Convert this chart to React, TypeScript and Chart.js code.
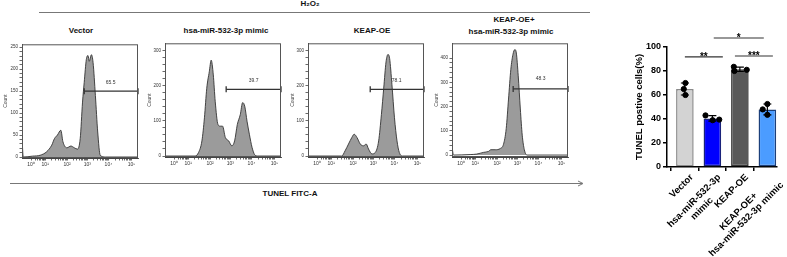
import React, { useEffect, useRef } from "react";
import { Chart, registerables } from "chart.js";
Chart.register(...registerables);

const FONT = "'Liberation Sans', Arial, Helvetica, sans-serif";

// ---- flow histograms (x in display decades) ----
const decadePositions = [0.43, 1.1, 2.14, 3.1, 4.1, 5.19];
const decadeLabels = ["10⁰", "10¹", "10²", "10³", "10⁴", "10⁵"];

const vectorX = [0, 0.06, 0.5, 0.86, 1.17, 1.41, 1.54, 1.68, 1.84, 1.94, 2.13, 2.32, 2.48, 2.63, 2.76, 2.87, 2.95, 3.05, 3.13, 3.19, 3.29, 3.37, 3.48, 3.59, 3.71, 3.95, 5.5];
const vectorCount = [45, 0, 2, 4, 12, 27, 42, 50, 61, 35, 21, 25, 21, 18, 42, 125, 170, 222, 231, 218, 233, 215, 140, 57, 4, 0, 0];

const mimicX = [0, 1.43, 1.59, 1.75, 1.87, 1.98, 2.1, 2.19, 2.29, 2.38, 2.51, 2.62, 2.73, 2.86, 3.02, 3.17, 3.3, 3.43, 3.57, 3.68, 3.78, 3.89, 4.0, 4.13, 4.25, 4.4, 5.5];
const mimicCount = [0, 0, 10, 43, 109, 193, 240, 273, 231, 156, 90, 85, 85, 53, 43, 29, 43, 90, 118, 152, 142, 99, 62, 24, 4, 0, 0];

const keapX = [0, 1.6, 1.76, 1.92, 2.08, 2.19, 2.32, 2.48, 2.63, 2.76, 2.87, 3.03, 3.19, 3.35, 3.48, 3.59, 3.7, 3.79, 3.87, 3.98, 4.1, 4.22, 4.33, 4.5, 5.5];
const keapCount = [0, 0, 15, 34, 53, 62, 53, 34, 29, 34, 20, 6, 10, 43, 118, 193, 268, 289, 278, 203, 109, 43, 10, 0, 0];

const comboX = [0, 0.07, 0.86, 1.17, 1.49, 1.73, 1.84, 2.05, 2.29, 2.44, 2.57, 2.68, 2.79, 2.89, 2.98, 3.05, 3.14, 3.24, 3.33, 3.43, 3.56, 5.5];
const comboCount = [35, 0, 2, 4, 11, 15, 22, 22, 27, 44, 109, 231, 354, 415, 435, 421, 327, 190, 82, 22, 0, 0];

const gateLabels = ["65.5", "39.7", "78.1", "48.3"];
const gateLevels = [150, 190, 190, 273];

// ---- bar chart ----
const groups: (string | string[])[] = ["Vector", ["hsa-miR-532-3p", "mimic"], "KEAP-OE", ["KEAP-OE+", "hsa-miR-532-3p mimic"]];
const meanTunel = [65, 40.5, 81.5, 48];
const sdTunel = [5, 2.3, 1.8, 4.5];
const replicates = [[70, 65, 60], [43, 39, 39.5], [83.5, 80, 81], [52.5, 48, 43.5]];
const jitter = [[0.02, -0.04, 0.02], [-0.25, 0.01, 0.25], [-0.22, -0.2, 0.25], [0, -0.17, 0]];
const barFill = ["#d3d3d3", "#0000fe", "#595959", "#4b9cff"];
const barEdge = ["#8a8a8a", "#1a237a", "#363636", "#1c3f7a"];
const sigMarks = ["**", "***", "*"];
const sigFrom = [0, 1.82, 1.05];
const sigTo = [1.38, 3.2, 2.87];
const sigLevel = [91.7, 92.5, 107.5];

const FW = 116, FH = 115, AXW = 22, AXH = 18, PADT = 4, PADR = 6;

type HistProps = {
  left: number; top: number; xs: number[]; ys: number[];
  yMin: number; yMax: number; yTop: number; major: number; minor: number;
  gate: { x0: number; x1: number; y: number; lx: number; ly: number; text: string };
  titlePad: number;
};

function Hist(p: HistProps) {
  const ref = useRef<HTMLCanvasElement>(null);
  useEffect(() => {
    const minorX: number[] = [];
    for (let d = 0; d < decadePositions.length - 1; d++)
      for (let k = 2; k < 10; k++)
        minorX.push(decadePositions[d] + Math.log10(k) * (decadePositions[d + 1] - decadePositions[d]));
    const frame = {
      id: "frame",
      afterDraw(c: any) {
        const a = c.chartArea; const ctx = c.ctx;
        ctx.save();
        ctx.strokeStyle = "#555"; ctx.lineWidth = 1;
        ctx.strokeRect(a.left + 0.5, a.top + 0.5, a.right - a.left - 1, a.bottom - a.top - 1);
        ctx.fillStyle = "#333"; ctx.font = `5px ${FONT}`;
        ctx.textAlign = "center"; ctx.textBaseline = "middle";
        ctx.fillText(p.gate.text, c.scales.x.getPixelForValue(p.gate.lx), c.scales.y.getPixelForValue(p.gate.ly));
        ctx.restore();
      },
    };
    const chart = new Chart(ref.current as HTMLCanvasElement, {
      type: "line",
      data: {
        datasets: [
          {
            data: [{ x: p.gate.x0, y: p.gate.y }, { x: p.gate.x1, y: p.gate.y }],
            borderColor: "#333", borderWidth: 1.3, pointStyle: "line", pointRotation: 90,
            pointRadius: 3, pointBorderWidth: 1.3, pointBorderColor: "#333", fill: false, clip: false as any,
          } as any,
          {
            data: p.xs.map((x, i) => ({ x, y: p.ys[i] })),
            borderColor: "#333", borderWidth: 0.9, backgroundColor: "#9b9b9b",
            fill: "origin", pointRadius: 0, cubicInterpolationMode: "monotone",
          } as any,
        ],
      },
      options: {
        responsive: false, animation: false, events: [],
        layout: { padding: { top: PADT, right: PADR, left: 0, bottom: 0 } },
        plugins: { legend: { display: false }, tooltip: { enabled: false } },
        scales: {
          x: {
            type: "linear", min: 0, max: 5.5,
            afterBuildTicks: (s: any) => {
              s.ticks = [...decadePositions, ...minorX].sort((a, b) => a - b).map((v) => ({ value: v }));
            },
            afterFit: (s: any) => { s.height = AXH; },
            ticks: {
              autoSkip: false, maxRotation: 0, minRotation: 0, padding: 1,
              font: { size: 5, family: FONT }, color: "#333",
              callback: (v: any) => { const i = decadePositions.indexOf(v); return i >= 0 ? decadeLabels[i] : ""; },
            },
            grid: { drawOnChartArea: false, tickLength: 2.5, color: "#444", lineWidth: 0.8 },
            border: { display: true, color: "#444", width: 1 },
          },
          y: {
            type: "linear", min: p.yMin, max: p.yMax,
            afterBuildTicks: (s: any) => {
              const t: any[] = [];
              for (let v = 0; v <= p.yTop; v += p.minor) t.push({ value: v });
              s.ticks = t;
            },
            afterFit: (s: any) => { s.width = AXW; },
            ticks: {
              autoSkip: false, padding: 1.5, font: { size: 4.5, family: FONT }, color: "#333",
              callback: (v: any) => (v % p.major === 0 ? String(v) : ""),
            },
            grid: { drawOnChartArea: false, tickLength: 2.5, color: "#444", lineWidth: 0.8 },
            border: { display: true, color: "#444", width: 1 },
            title: { display: true, text: "Count", font: { size: 5, family: FONT }, color: "#444", padding: { top: p.titlePad, bottom: 0 } },
          },
        },
      } as any,
      plugins: [frame],
    });
    return () => chart.destroy();
  }, []);
  const w = FW + AXW + PADR, h = FH + PADT + AXH;
  return (
    <canvas ref={ref} width={w} height={h}
      style={{ position: "absolute", left: p.left - AXW, top: p.top - PADT, width: w, height: h }} />
  );
}

function BarPanel() {
  const ref = useRef<HTMLCanvasElement>(null);
  useEffect(() => {
    const errPlugin = {
      id: "err",
      afterDatasetDraw(c: any, args: any) {
        if (args.index !== 1) return;
        const ctx = c.ctx, xs = c.scales.x, ys = c.scales.y;
        ctx.save(); ctx.strokeStyle = "#000"; ctx.lineWidth = 1.2;
        meanTunel.forEach((m, i) => {
          const x = xs.getPixelForValue(i);
          const y1 = ys.getPixelForValue(m + sdTunel[i]);
          const y0 = ys.getPixelForValue(m - sdTunel[i]);
          ctx.beginPath();
          ctx.moveTo(x, y0); ctx.lineTo(x, y1);
          ctx.moveTo(x - 4, y1); ctx.lineTo(x + 4, y1);
          ctx.moveTo(x - 4, y0); ctx.lineTo(x + 4, y0);
          ctx.stroke();
        });
        ctx.restore();
      },
      afterDraw(c: any) {
        const ctx = c.ctx, xs = c.scales.x, ys = c.scales.y;
        ctx.save(); ctx.strokeStyle = "#333"; ctx.lineWidth = 1.2; ctx.fillStyle = "#000";
        ctx.font = `bold 10px ${FONT}`; ctx.textAlign = "center"; ctx.textBaseline = "alphabetic";
        sigMarks.forEach((s, i) => {
          const a = xs.getPixelForValue(sigFrom[i]), b = xs.getPixelForValue(sigTo[i]);
          const y = ys.getPixelForValue(sigLevel[i]);
          ctx.beginPath(); ctx.moveTo(a, y); ctx.lineTo(b, y); ctx.stroke();
          ctx.fillText(s, (a + b) / 2, y + 3);
        });
        ctx.restore();
        // category labels: rotated blocks, lines centred, block's top-right at the tick
        const bottom = c.chartArea.bottom;
        const LH = 11;
        ctx.save();
        ctx.font = `bold 9.5px ${FONT}`; ctx.fillStyle = "#000";
        ctx.textAlign = "center"; ctx.textBaseline = "middle";
        groups.forEach((g, i) => {
          const lines = Array.isArray(g) ? g : [g];
          const W = Math.max(...lines.map((l) => ctx.measureText(l).width));
          ctx.save();
          ctx.translate(xs.getPixelForValue(i) + 3, bottom + 5);
          ctx.rotate(-Math.PI / 4);
          lines.forEach((l, k) => ctx.fillText(l, -W / 2, LH * k + LH / 2));
          ctx.restore();
        });
        ctx.restore();
      },
    };
    const chart = new Chart(ref.current as HTMLCanvasElement, {
      type: "bar",
      data: {
        datasets: [
          {
            type: "scatter",
            data: replicates.flatMap((r, i) => r.map((v, j) => ({ x: i + jitter[i][j], y: v }))),
            pointRadius: 2.6, backgroundColor: "#000", borderColor: "#000", order: 0,
          } as any,
          {
            type: "bar",
            data: meanTunel.map((v, i) => ({ x: i, y: v })),
            backgroundColor: barFill, borderColor: barEdge, borderWidth: 1.5, borderSkipped: false,
            categoryPercentage: 0.8, barPercentage: 0.8, order: 1,
          } as any,
        ],
      },
      options: {
        responsive: false, animation: false, events: [],
        layout: { padding: { top: 22, right: 10, left: 0, bottom: 0 } },
        plugins: { legend: { display: false }, tooltip: { enabled: false } },
        scales: {
          x: {
            type: "linear", min: -0.65, max: 3.35, offset: false,
            afterBuildTicks: (s: any) => { s.ticks = groups.map((_, i) => ({ value: i })); },
            afterFit: (s: any) => { s.height = 90; },
            ticks: { display: false, autoSkip: false, callback: (v: any) => groups[v] },
            grid: { drawOnChartArea: false, tickLength: 4, color: "#000", lineWidth: 1.5 },
            border: { display: true, color: "#000", width: 1.5 },
          },
          y: {
            min: 0, max: 100,
            afterFit: (s: any) => { s.width = 77; },
            ticks: { stepSize: 20, padding: 2, font: { size: 9, weight: "bold", family: FONT }, color: "#000" },
            grid: { drawOnChartArea: false, tickLength: 4, color: "#000", lineWidth: 1.5 },
            border: { display: true, color: "#000", width: 1.5 },
            title: {
              display: true, text: "TUNEL postive cells(%)", color: "#000",
              font: { size: 9.5, weight: "bold", family: FONT }, padding: { top: 44, bottom: 0 },
            },
          },
        },
      } as any,
      plugins: [errPlugin],
    });
    return () => chart.destroy();
  }, []);
  return (
    <canvas ref={ref} width={197} height={232}
      style={{ position: "absolute", left: 590, top: 25, width: 197, height: 232 }} />
  );
}

function Label(props: { text: string; cx: number; cy: number; size: number }) {
  return (
    <div style={{
      position: "absolute", left: props.cx, top: props.cy - props.size * 0.6,
      transform: "translateX(-50%)", whiteSpace: "nowrap", fontFamily: FONT,
      fontWeight: "bold", fontSize: props.size, lineHeight: `${props.size * 1.2}px`, color: "#111",
    }}>{props.text}</div>
  );
}

export default function App() {
  return (
    <div style={{ position: "absolute", left: 0, top: 0, width: 787, height: 257, background: "#fff", overflow: "hidden" }}>
      <svg width={787} height={257} style={{ position: "absolute", left: 0, top: 0 }}>
        <line x1={39} y1={12.5} x2={590} y2={12.5} stroke="#777" strokeWidth={1} />
        <line x1={10} y1={183.5} x2={582} y2={183.5} stroke="#777" strokeWidth={1} />
        <polyline points="578,181 583,183.5 578,186" fill="none" stroke="#777" strokeWidth={1} />
      </svg>
      <Label text="H₂O₂" cx={310} cy={4} size={8} />
      <Label text="Vector" cx={81} cy={31} size={8} />
      <Label text="hsa-miR-532-3p mimic" cx={226} cy={31} size={8} />
      <Label text="KEAP-OE" cx={372} cy={31} size={8} />
      <Label text="KEAP-OE+" cx={514} cy={20} size={8} />
      <Label text="hsa-miR-532-3p mimic" cx={511} cy={32} size={8} />
      <Label text="TUNEL FITC-A" cx={290} cy={194} size={8} />
      <Hist left={22} top={43} xs={vectorX} ys={vectorCount} yMin={-2.25} yMax={256.7} yTop={250} major={50} minor={10}
        gate={{ x0: 2.95, x1: 5.5, y: gateLevels[0], lx: 4.2, ly: 170, text: gateLabels[0] }} titlePad={2.5} />
      <Hist left={165} top={42} xs={mimicX} ys={mimicCount} yMin={-2.8} yMax={321} yTop={300} major={100} minor={20}
        gate={{ x0: 2.9, x1: 5.5, y: gateLevels[1], lx: 4.2, ly: 214, text: gateLabels[1] }} titlePad={3.5} />
      <Hist left={308} top={42} xs={keapX} ys={keapCount} yMin={-2.8} yMax={321} yTop={300} major={100} minor={20}
        gate={{ x0: 2.95, x1: 5.5, y: gateLevels[2], lx: 4.2, ly: 215, text: gateLabels[2] }} titlePad={3.5} />
      <Hist left={452} top={42} xs={comboX} ys={comboCount} yMin={-8} yMax={461} yTop={400} major={100} minor={20}
        gate={{ x0: 2.9, x1: 5.5, y: gateLevels[3], lx: 4.2, ly: 314, text: gateLabels[3] }} titlePad={3.5} />
      <BarPanel />
    </div>
  );
}
